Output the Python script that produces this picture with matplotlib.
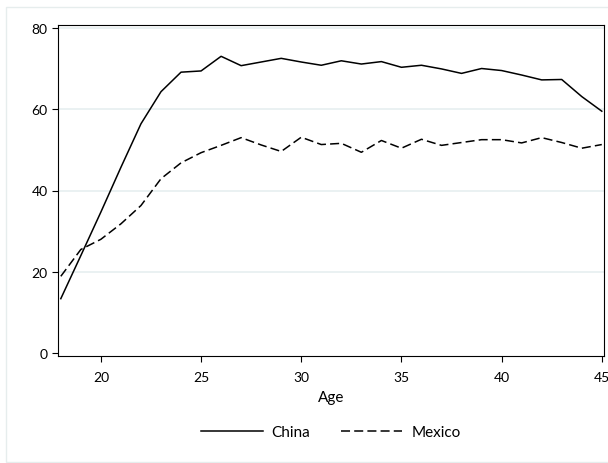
import numpy as np
import matplotlib
matplotlib.use("Agg")
from matplotlib import pyplot as plt
from matplotlib.patches import Rectangle

plt.rcParams['font.family'] = ['Lato', 'DejaVu Sans']
plt.rcParams['lines.scale_dashes'] = False

# werte
age = list(range(18, 46))
china = [13.4, 24.0, 34.7, 45.7, 56.4, 64.3, 69.1, 69.4, 73.0, 70.7,
         71.6, 72.5, 71.6, 70.8, 71.9, 71.1, 71.7, 70.3, 70.8, 69.9,
         68.8, 70.0, 69.5, 68.4, 67.2, 67.3, 63.1, 59.5]
mexico = [18.9, 25.5, 28.0, 31.8, 36.3, 42.9, 46.8, 49.3, 51.1, 53.0,
          51.2, 49.6, 53.1, 51.3, 51.6, 49.4, 52.3, 50.4, 52.6, 51.1,
          51.8, 52.5, 52.5, 51.7, 53.0, 51.8, 50.4, 51.3]
xticks = [20, 25, 30, 35, 40, 45]
yticks = [0, 20, 40, 60, 80]

fig = plt.figure(figsize=(6.08, 4.64), dpi=100)
fig.patches.append(Rectangle((6/608, 0.002), 1.0, 1 - 8/464 - 0.002,
                             transform=fig.transFigure, fill=False,
                             edgecolor='#e6eded', lw=1.0))

ax = fig.add_axes([58/608, 1 - 357/464, (604-58)/608, (357-26)/464])

for yv in yticks[1:]:
    ax.axhline(yv, color='#e6eff0', lw=1.2, zorder=0)

ax.plot(age, china, color='black', lw=1.1, label='China')
ax.plot(age, mexico, color='black', lw=1.1, dashes=(6.5, 3), label='Mexico')

ax.set_xlim(17.86, 45.11)
ax.set_ylim(-0.7, 80.7)
ax.set_xticks(xticks)
ax.set_yticks(yticks)
ax.tick_params(direction='out', length=4.5, width=0.8, labelsize=10)
ax.tick_params(axis='x', pad=6.5)
ax.tick_params(axis='y', pad=3)
for sp in ax.spines.values():
    sp.set_linewidth(0.8)
ax.set_xlabel('Age', fontsize=11, labelpad=4.5)

fig.legend(loc='center', bbox_to_anchor=(331/608, 1 - 433/464), ncol=2,
           frameon=False, fontsize=11, handlelength=4.0, columnspacing=2.0,
           handletextpad=0.6)

fig.savefig('out.png', dpi=100)
